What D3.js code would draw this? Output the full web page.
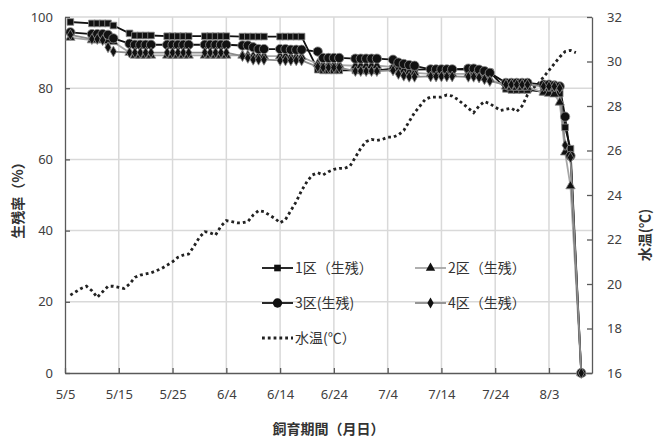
<!DOCTYPE html>
<html><head><meta charset="utf-8">
<script src="https://cdn.jsdelivr.net/npm/d3@7"></script>
<style>body{margin:0;background:#fff} svg{display:block}</style>
</head><body><svg id="c" width="659" height="439"></svg>
<script>
// ---- data ----
const surveyDates = [
 "5/6",
 "5/10","5/11","5/12","5/13","5/14",
 "5/17","5/18","5/19","5/20","5/21",
 "5/24","5/25","5/26","5/27","5/28",
 "5/31","6/1","6/2","6/3","6/4",
 "6/7","6/8","6/9","6/10","6/11",
 "6/14","6/15","6/16","6/17","6/18",
 "6/21","6/22","6/23","6/24","6/25",
 "6/28","6/29","6/30","7/1","7/2",
 "7/5","7/6","7/7","7/8","7/9",
 "7/12","7/13","7/14","7/15","7/16",
 "7/19","7/20","7/21","7/22","7/23",
 "7/26","7/27","7/28","7/29","7/30",
 "8/2","8/3","8/4","8/5",
 "8/6","8/7","8/9"];
const survival1 = [98.6,
 98.2,98.2,98.2,98.2,97.6, 95.4,94.8,94.8,94.8,94.8, 94.6,94.6,94.6,94.6,94.6,
 94.6,94.6,94.6,94.6,94.6, 94.5,94.5,94.5,94.5,94.5, 94.5,94.5,94.5,94.5,94.5,
 85.2,85.0,85.0,85.0,85.0, 85.0,85.0,85.0,85.0,85.0, 85.5,85.5,85.3,85.3,85.2,
 85.3,85.3,85.3,85.3,85.3, 85.2,85.2,85.0,84.8,84.5, 79.8,79.5,79.5,79.5,79.5,
 79.0,79.0,78.8,78.5, 69.0,63.0,0];
const survival2 = [94.2,
 93.5,93.5,93.5,93.3,93.0, 90.0,89.2,89.2,89.2,89.2, 89.2,89.2,89.2,89.2,89.2,
 89.2,89.2,89.2,89.2,89.2, 89.2,89.2,89.0,89.0,89.0, 89.0,89.0,88.8,88.8,88.8,
 86.8,86.5,86.5,86.5,86.5, 86.3,86.3,86.3,86.3,86.3, 86.0,85.5,85.0,84.5,84.3,
 84.0,84.0,84.0,84.0,84.0, 84.0,84.0,83.5,83.0,82.5, 80.5,80.2,80.2,80.2,80.2,
 78.8,78.5,78.3,76.0, 62.0,52.5,0];
const survival3 = [95.7,
 95.2,95.2,95.2,95.0,94.0, 92.5,92.2,92.2,92.2,92.2, 92.2,92.2,92.2,92.2,92.2,
 92.2,92.2,92.2,92.2,92.2, 92.0,92.0,91.5,91.0,91.0, 91.0,91.0,90.8,90.8,90.8,
 90.3,88.5,88.5,88.5,88.5, 88.3,88.3,88.3,88.3,88.3, 88.0,87.2,86.8,86.5,86.3,
 85.3,85.3,85.3,85.3,85.3, 85.5,85.5,85.2,84.8,84.3, 81.5,81.5,81.5,81.5,81.5,
 81.0,81.0,80.8,80.5, 72.0,61.0,0];
const survival4 = [95.0,
 93.8,93.8,93.5,91.5,90.3, 90.0,90.0,90.0,90.0,90.0, 90.0,90.0,90.0,90.0,90.0,
 90.0,90.0,90.0,90.0,90.0, 89.0,88.5,88.0,88.0,88.0, 87.8,87.8,87.8,87.8,87.8,
 86.0,85.8,85.8,85.8,85.8, 84.8,84.8,84.8,84.8,84.8, 85.0,84.0,83.5,83.2,83.2,
 83.3,83.3,83.3,83.3,83.3, 83.2,83.2,83.0,82.5,82.0, 81.0,81.0,81.0,81.0,81.0,
 80.5,80.5,80.5,80.0, 64.0,60.5,0];
// daily water temperature from 5/6 to 8/8
const tempStart = "5/6";
const waterTemp = [19.5,19.65,19.8,19.9,19.7,19.4,19.65,19.9,19.9,19.85,
 19.8,20.0,20.3,20.4,20.45,20.5,20.6,20.7,20.85,21.0,
 21.2,21.3,21.35,21.7,22.1,22.35,22.3,22.2,22.6,22.85,
 22.8,22.75,22.75,22.8,23.1,23.3,23.25,23.1,22.95,22.75,
 22.9,23.3,23.7,24.2,24.6,24.9,25.0,24.9,25.05,25.15,
 25.2,25.2,25.3,25.7,26.1,26.4,26.5,26.45,26.5,26.6,
 26.6,26.7,26.9,27.3,27.7,28.0,28.3,28.4,28.4,28.4,
 28.5,28.45,28.3,28.1,27.9,27.7,28.0,28.2,28.1,27.95,
 27.8,27.85,27.9,27.75,28.0,28.5,28.8,29.0,29.3,29.6,
 29.9,30.2,30.45,30.5,30.4];
const xTickLabels = ["5/5","5/15","5/25","6/4","6/14","6/24","7/4","7/14","7/24","8/3"];
const xDomain = ["5/5","8/11"];
const leftTicks = [0,20,40,60,80,100];
const rightTicks = [16,18,20,22,24,26,28,30,32];
const seriesNames = ["1区（生残）","2区（生残）","3区(生残)","4区（生残）","水温(℃）"];
const xTitle = "飼育期間（月日）";
const yLeftTitle = "生残率（%）";
const yRightTitle = "水温(℃)";

// ---- drawing ----
const parse = s => { const [m,d] = s.split("/").map(Number); return new Date(2020, m-1, d); };
const svg = d3.select("#c");
const L = 65, R = 592, T = 17, B = 373;
const x = d3.scaleTime().domain(xDomain.map(parse)).range([L, R]);
const yL = d3.scaleLinear().domain([0,100]).range([B, T]);
const yR = d3.scaleLinear().domain([16,32]).range([B, T]);
const numFont = "'Noto Sans', 'DejaVu Sans', sans-serif";
const cjkFont = "'Noto Sans CJK JP', 'Noto Sans', sans-serif";

// gridlines
const grid = svg.append("g").attr("stroke", "#d9d9d9").attr("stroke-width", 1.5);
leftTicks.filter(v => v > 0).forEach(v => grid.append("line")
  .attr("x1", L).attr("x2", R).attr("y1", yL(v)).attr("y2", yL(v)));
xTickLabels.slice(1).forEach(s => grid.append("line")
  .attr("x1", x(parse(s))).attr("x2", x(parse(s))).attr("y1", T).attr("y2", B));

// axes
function styleAxis(g) {
  g.select(".domain").attr("stroke", "#595959").attr("stroke-width", 1.3);
  g.selectAll(".tick line").attr("stroke", "#595959").attr("stroke-width", 1.3);
  g.selectAll(".tick text").attr("fill", "#404040").style("font-family", numFont).style("font-size", "13px");
}
svg.append("g").attr("transform", `translate(${L},0)`)
  .call(d3.axisLeft(yL).tickValues(leftTicks).tickSize(-5).tickSizeOuter(0).tickPadding(12))
  .call(styleAxis);
svg.append("g").attr("transform", `translate(${R},0)`)
  .call(d3.axisRight(yR).tickValues(rightTicks).tickSize(-5).tickSizeOuter(0).tickPadding(15))
  .call(styleAxis);
svg.append("g").attr("transform", `translate(0,${B})`)
  .call(d3.axisBottom(x).tickValues(xTickLabels.map(parse)).tickFormat((d,i) => xTickLabels[i])
        .tickSize(-5).tickSizeOuter(0).tickPadding(17))
  .call(styleAxis);

// temperature (dotted)
const tempDates = waterTemp.map((v,i) => d3.timeDay.offset(parse(tempStart), i));
svg.append("path")
  .attr("d", d3.line().x((d,i) => x(tempDates[i])).y(d => yR(d))(waterTemp))
  .attr("fill", "none").attr("stroke", "#222").attr("stroke-width", 2.8)
  .attr("stroke-dasharray", "2.8,3");

// survival series
const dates = surveyDates.map(parse);
const series = [
  {vals: survival1, line: "#111", shape: "square"},
  {vals: survival2, line: "#a6a6a6", shape: "triangle"},
  {vals: survival3, line: "#111", shape: "circle"},
  {vals: survival4, line: "#8c8c8c", shape: "diamond"}
];
const sym = {
  square: d3.symbol().type(d3.symbolSquare).size(44),
  triangle: d3.symbol().type(d3.symbolTriangle).size(38),
  circle: d3.symbol().type(d3.symbolCircle).size(68),
  diamond: d3.symbol().type(d3.symbolDiamond).size(34)
};
series.forEach(s => {
  svg.append("path")
    .attr("d", d3.line().x((d,i) => x(dates[i])).y(d => yL(d))(s.vals))
    .attr("fill", "none").attr("stroke", s.line).attr("stroke-width", 1.8);
});
series.forEach(s => {
  svg.append("g").selectAll("path").data(s.vals).join("path")
    .attr("d", sym[s.shape]())
    .attr("transform", (d,i) => `translate(${x(dates[i])},${yL(d)})`)
    .attr("fill", "#111").attr("stroke", "#8c8c8c").attr("stroke-width", 0.8);
});

// legend
const leg = [
  {name: seriesNames[0], lx: 262, ly: 268, line: "#111", shape: "square", w: 1.8},
  {name: seriesNames[1], lx: 415, ly: 268, line: "#a6a6a6", shape: "triangle", w: 1.8},
  {name: seriesNames[2], lx: 262, ly: 303, line: "#111", shape: "circle", w: 1.8},
  {name: seriesNames[3], lx: 415, ly: 303, line: "#8c8c8c", shape: "diamond", w: 1.8},
  {name: seriesNames[4], lx: 262, ly: 338, line: "#222", shape: null, w: 2.8}
];
leg.forEach(l => {
  const g = svg.append("g");
  g.append("line").attr("x1", l.lx).attr("x2", l.lx + 31).attr("y1", l.ly).attr("y2", l.ly)
    .attr("stroke", l.line).attr("stroke-width", l.w)
    .attr("stroke-dasharray", l.shape ? null : "2.8,3");
  if (l.shape) g.append("path").attr("d", sym[l.shape]())
    .attr("transform", `translate(${l.lx + 15.5},${l.ly})`).attr("fill", "#111");
  g.append("text").attr("x", l.lx + 33).attr("y", l.ly).attr("dy", "0.36em")
    .attr("fill", "#333").style("font-family", cjkFont).style("font-size", "14px").text(l.name);
});

// titles
svg.append("text").attr("x", (L + R) / 2).attr("y", 429).attr("dy", "0.36em").attr("text-anchor", "middle")
  .attr("fill", "#333").style("font-family", cjkFont).style("font-size", "14px").style("font-weight", "bold")
  .text(xTitle);
svg.append("text").attr("transform", "translate(18,197) rotate(-90)").attr("text-anchor", "middle")
  .attr("dy", "0.36em").attr("fill", "#333").style("font-family", cjkFont).style("font-size", "14px")
  .style("font-weight", "bold").text(yLeftTitle);
svg.append("text").attr("transform", "translate(645,235) rotate(-90)").attr("text-anchor", "middle")
  .attr("dy", "0.36em").attr("fill", "#333").style("font-family", cjkFont).style("font-size", "14px")
  .style("font-weight", "bold").text(yRightTitle);
</script></body></html>
